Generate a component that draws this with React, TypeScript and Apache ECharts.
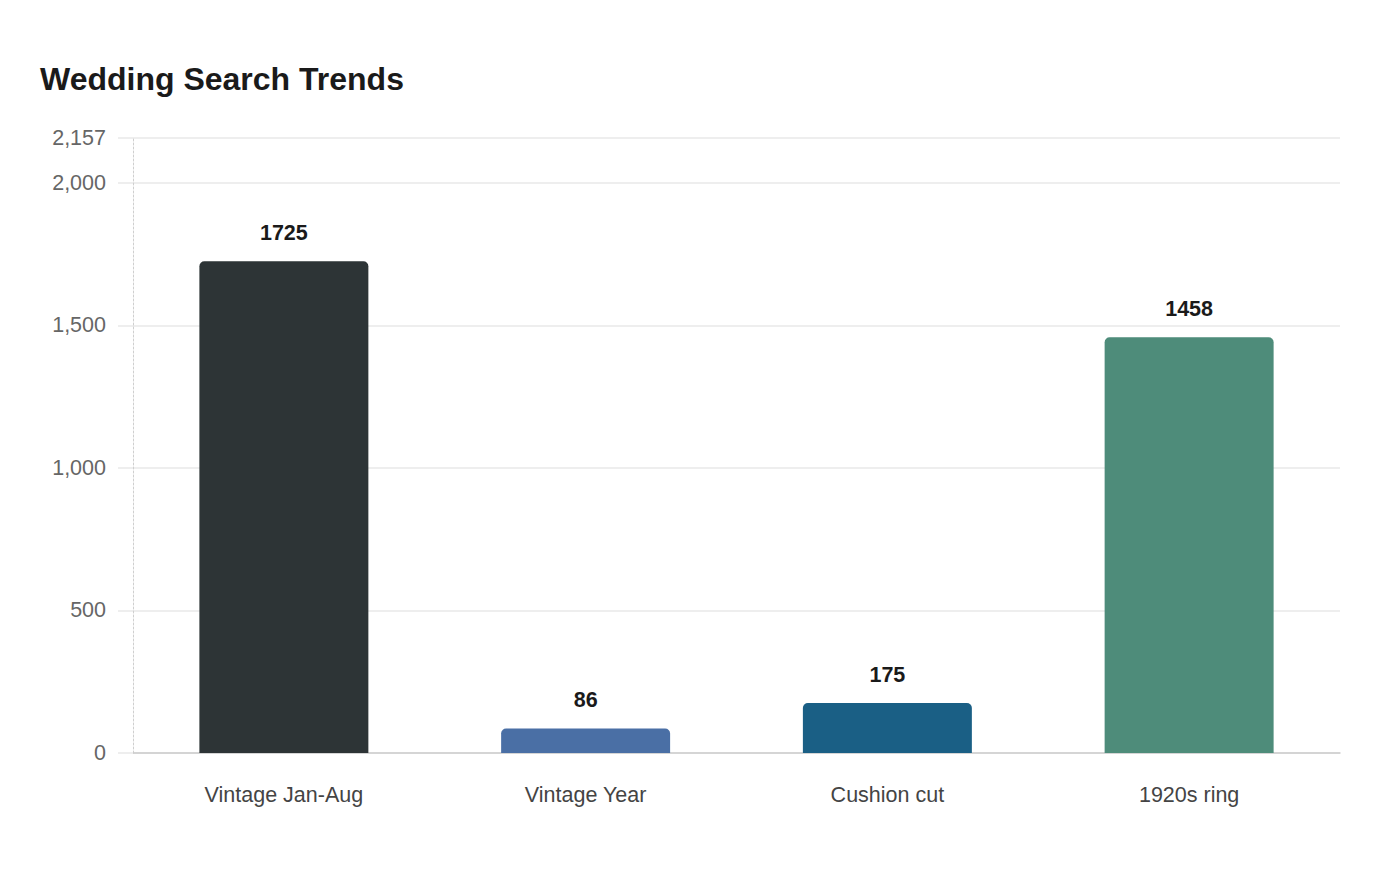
import React, { useEffect, useRef } from "react";
import * as echarts from "echarts";

const categories = ["Vintage Jan-Aug", "Vintage Year", "Cushion cut", "1920s ring"];
const searchCounts = [1725, 86, 175, 1458];
const barColors = ["#2d3436", "#4a6fa5", "#1a5f85", "#4e8c7a"];
const axisMax = 2157;

export default function App() {
  const ref = useRef<HTMLDivElement>(null);

  useEffect(() => {
    if (!ref.current) return;
    const chart = echarts.init(ref.current, null, { renderer: "svg" });
    const font = "'Liberation Sans', Arial, sans-serif";
    chart.setOption({
      animation: false,
      backgroundColor: "#ffffff",
      title: {
        text: "Wedding Search Trends",
        left: 35,
        top: 58,
        textStyle: { fontFamily: font, fontSize: 32, fontWeight: "bold", color: "#1a1a1a" },
      },
      grid: { left: 133, right: 60, top: 138, bottom: 127 },
      xAxis: {
        type: "category",
        data: categories,
        axisLine: { show: true, lineStyle: { color: "#cccccc", width: 1.5 } },
        axisTick: { show: false },
        axisLabel: { fontFamily: font, fontSize: 21.5, color: "#444444", margin: 31 },
      },
      yAxis: {
        type: "value",
        min: 0,
        max: axisMax,
        interval: 500,
        axisLine: { show: true, lineStyle: { color: "#cfcfcf", type: [2, 2] } },
        axisTick: { show: true, length: 15, lineStyle: { color: "#eeeeee", width: 2 } },
        splitLine: { show: true, lineStyle: { color: "#eeeeee", width: 2 } },
        axisLabel: {
          fontFamily: font,
          fontSize: 21.5,
          color: "#666666",
          margin: 27,
          padding: [2, 0, 0, 0],
          formatter: (v: number) => v.toLocaleString("en-US"),
        },
      },
      series: [
        {
          type: "bar",
          barWidth: "56%",
          data: searchCounts.map((v, i) => ({ value: v, itemStyle: { color: barColors[i] } })),
          itemStyle: { borderRadius: [5, 5, 0, 0] },
          label: {
            show: true,
            position: "top",
            distance: 17,
            fontFamily: font,
            fontSize: 21.5,
            fontWeight: "bold",
            color: "#1a1a1a",
          },
        },
      ],
    });
    return () => chart.dispose();
  }, []);

  return (
    <div
      ref={ref}
      style={{ position: "fixed", left: 0, top: 0, width: 1400, height: 880 }}
    />
  );
}
